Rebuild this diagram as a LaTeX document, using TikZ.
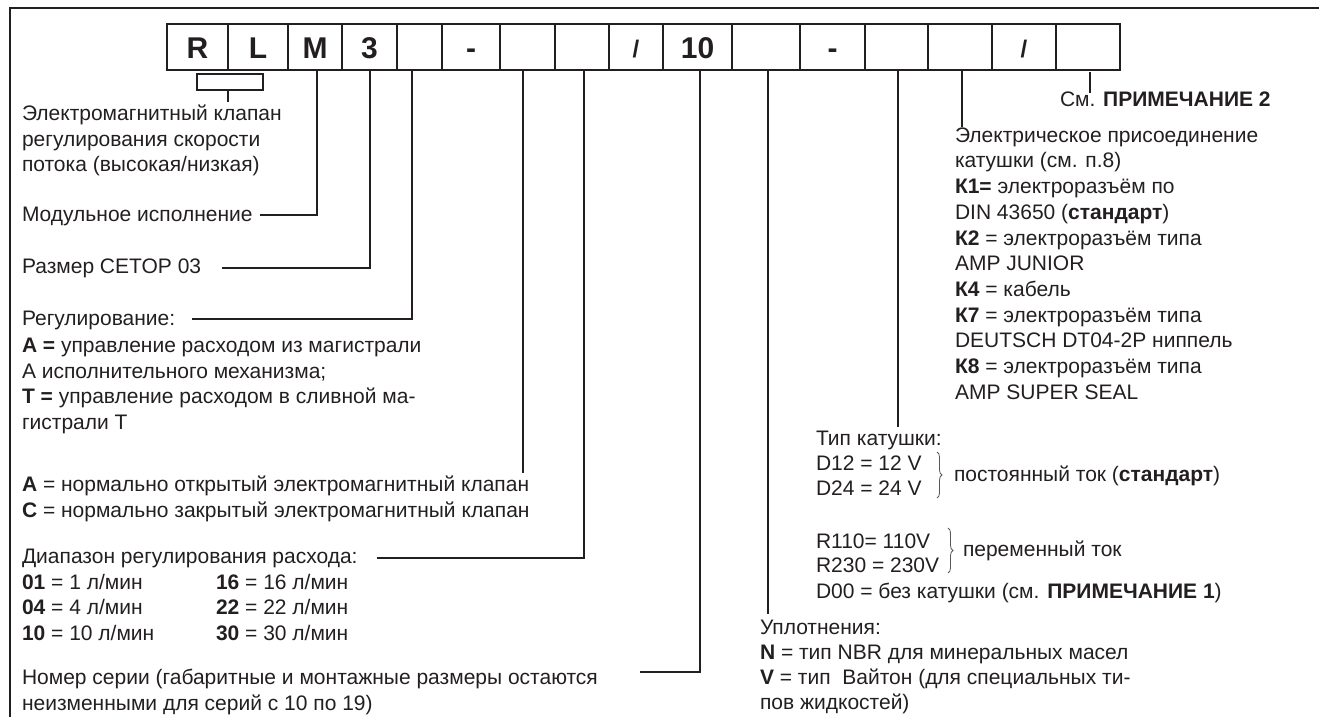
\documentclass[tikz,border=0pt]{standalone}
\usepackage{fontspec}
\setmainfont{Liberation Sans}
\usetikzlibrary{decorations.pathreplacing}
\definecolor{ink}{RGB}{35,31,32}
\begin{document}
\begin{tikzpicture}[x=1pt,y=-1pt,
  txt/.style={anchor=base west,inner sep=0pt,outer sep=0pt,text=ink,font=\fontsize{21}{25.5}\selectfont},
  lead/.style={draw=ink,line width=1.8pt},
  frame/.style={draw=ink,line width=2.2pt},
  cell/.style={anchor=base,inner sep=0pt,text=ink,font=\fontsize{30}{30}\selectfont\bfseries},
  slash/.style={anchor=base,inner sep=0pt,text=ink,font=\fontsize{24}{24}\selectfont\bfseries},
  brc/.style={draw=ink!75,line width=0.8pt,decorate,decoration={brace,amplitude=5pt}}
]
\useasboundingbox (0,0) rectangle (1319,717);
% frame
\draw[frame] (10,717) -- (10,8) -- (1319,8);
% code boxes
\draw[lead] (167,24) rectangle (1120,70);
\foreach \xx in {228,288,342,397,442,500,555,609,663,732,800,865,928,992,1056}
  \draw[lead] (\xx,24) -- (\xx,70);
\node[cell] (c1) at (197.5,59) {R};
\node[cell] (c2) at (258,59) {L};
\node[cell] (c3) at (315,59) {M};
\node[cell] (c4) at (369.5,59) {3};
\node[cell] (c6) at (471,59) {-};
\node[slash] (c9) at (636,58) {/};
\node[cell] (c10) at (697.5,59) {10};
\node[cell] (c12) at (832.5,59) {-};
\node[slash] (c15) at (1024,58) {/};

% ---- left texts
\node[txt] (t1a) at (22,120.5) {Электромагнитный клапан};
\node[txt] (t1b) at (22,146) {регулирования скорости};
\node[txt] (t1c) at (22,171.5) {потока (высокая/низкая)};
\node[txt] (t2) at (22,221.5) {Модульное исполнение};
\node[txt] (t3) at (22,273.5) {Размер CETOP 03};
\node[txt] (t4) at (22,325.5) {Регулирование:};
\node[txt] (t4a) at (22,352.5) {\textbf{A =} управление расходом из магистрали};
\node[txt] (t4b) at (22,378) {А исполнительного механизма;};
\node[txt] (t4c) at (22,403.5) {\textbf{T =} управление расходом в сливной ма-};
\node[txt] (t4d) at (22,429) {гистрали Т};
\node[txt] (t5a) at (22,491.5) {\textbf{A} = нормально открытый электромагнитный клапан};
\node[txt] (t5b) at (22,517) {\textbf{C} = нормально закрытый электромагнитный клапан};
\node[txt] (t6) at (22,563.5) {Диапазон регулирования расхода:};
\node[txt] (t6a) at (22,589) {\textbf{01} = 1 л/мин};
\node[txt] (t6b) at (22,614.5) {\textbf{04} = 4 л/мин};
\node[txt] (t6c) at (22,640) {\textbf{10} = 10 л/мин};
\node[txt] (t6d) at (216,589) {\textbf{16} = 16 л/мин};
\node[txt] (t6e) at (216,614.5) {\textbf{22} = 22 л/мин};
\node[txt] (t6f) at (216,640) {\textbf{30} = 30 л/мин};
\node[txt] (t7a) at (22,684.5) {Номер серии (габаритные и монтажные размеры остаются};
\node[txt] (t7b) at (22,710) {неизменными для серий с 10 по 19)};

% ---- right texts
\node[txt] (r0) at (1060,106) {См. \textbf{ПРИМЕЧАНИЕ 2}};
\node[txt] (r1) at (955,142.2) {Электрическое присоединение};
\node[txt] (r2) at (955,167.9) {катушки (см. п.8)};
\node[txt] (r3) at (955,193.6) {\textbf{К1=} электроразъём по};
\node[txt] (r4) at (955,219.3) {DIN 43650 (\textbf{стандарт})};
\node[txt] (r5) at (955,245) {\textbf{К2} = электроразъём типа};
\node[txt] (r6) at (955,270.7) {AMP JUNIOR};
\node[txt] (r7) at (955,296.4) {\textbf{К4} = кабель};
\node[txt] (r8) at (955,322.1) {\textbf{К7} = электроразъём типа};
\node[txt] (r9) at (955,347.8) {DEUTSCH DT04-2P ниппель};
\node[txt] (r10) at (955,373.5) {\textbf{К8} = электроразъём типа};
\node[txt] (r11) at (955,399.2) {AMP SUPER SEAL};

\node[txt] (k0) at (816,445.5) {Тип катушки:};
\node[txt] (k1) at (816,470.5) {D12 = 12 V};
\node[txt] (k2) at (816,495.5) {D24 = 24 V};
\node[txt] (k3) at (954,481.5) {постоянный ток (\textbf{стандарт})};
\node[txt] (k4) at (816,548) {R110= 110V};
\node[txt] (k5) at (816,572) {R230 = 230V};
\node[txt] (k6) at (963,556.5) {переменный ток};
\node[txt] (k7) at (816,598) {D00 = без катушки (см. \textbf{ПРИМЕЧАНИЕ 1})};
\draw[brc] (937,452) -- (937,498);
\draw[brc] (948,528) -- (948,573);

\node[txt] (s0) at (760,634.5) {Уплотнения:};
\node[txt] (s1) at (760,659.5) {\textbf{N} = тип NBR для минеральных масел};
\node[txt] (s2) at (760,684.5) {\textbf{V} = тип\ \ Вайтон (для специальных ти-};
\node[txt] (s3) at (760,709.5) {пов жидкостей)};

% ---- leader lines
\coordinate (bA) at (197,74);
\coordinate (bB) at (263,90);
\draw[lead] (bA) rectangle (bB);
\coordinate (bT0) at (228,90);
\coordinate (bT1) at (228,102);
\draw[lead] (bT0) -- (bT1);

\coordinate (m0) at (317,70);  \coordinate (m1) at (260,215);
\draw[lead] (m0) |- (m1);
\coordinate (s30) at (370,70); \coordinate (s31) at (222,268);
\draw[lead] (s30) |- (s31);
\coordinate (g0) at (412,70);  \coordinate (g1) at (192,319);
\draw[lead] (g0) |- (g1);
\coordinate (v0) at (523,70);  \coordinate (v1) at (523,473);
\draw[lead] (v0) -- (v1);
\coordinate (f0) at (584,70);  \coordinate (f1) at (377,558);
\draw[lead] (f0) |- (f1);
\coordinate (n0) at (700,70);  \coordinate (n1) at (640,672);
\draw[lead] (n0) |- (n1);
\coordinate (u0) at (768,70);  \coordinate (u1) at (768,614);
\draw[lead] (u0) -- (u1);
\coordinate (q0) at (898,70);  \coordinate (q1) at (898,427);
\draw[lead] (q0) -- (q1);
\coordinate (e0) at (962,70);  \coordinate (e1) at (962,127);
\draw[lead] (e0) -- (e1);
\coordinate (p0) at (1090,72); \coordinate (p1) at (1090,93);
\draw[lead] (p0) -- (p1);
\end{tikzpicture}
\end{document}
